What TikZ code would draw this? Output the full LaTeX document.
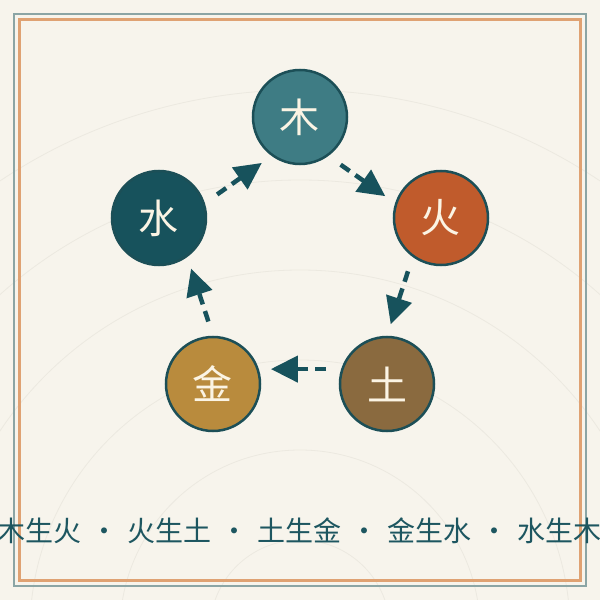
\documentclass[tikz,border=0pt]{standalone}
\usepackage{fontspec}
\newfontfamily\cjk{Noto Sans CJK SC}
\usepackage{xcolor}
\usepackage{tikz}
\usetikzlibrary{arrows.meta}

\definecolor{paper}{HTML}{F7F4EC}
\definecolor{ringc}{HTML}{ECE9E0}
\definecolor{frameteal}{HTML}{8BA5A5}
\definecolor{frameorange}{HTML}{DFA273}
\definecolor{wood}{HTML}{3E7C84}
\definecolor{fire}{HTML}{C05B2C}
\definecolor{earth}{HTML}{8A6A3F}
\definecolor{metal}{HTML}{B98B3D}
\definecolor{water}{HTML}{17525C}
\definecolor{edge}{HTML}{1C4F57}
\definecolor{cream}{HTML}{FBF4E4}
\definecolor{ink}{HTML}{1D5660}

\newcommand{\dotsep}{\hspace{9pt}·\hspace{9pt}}

\begin{document}
\begin{tikzpicture}[
  x=1pt,y=1pt,
  elem/.style={circle,draw=edge,line width=2.5pt,minimum size=94pt,inner sep=0pt,
    text=cream,font=\cjk\fontsize{40}{40}\selectfont},
  flow/.style={-{Triangle[length=27pt,width=26pt]},draw=water,line width=4.5pt,
    dash pattern=on 11pt off 7pt,shorten <=15pt,shorten >=12pt},
  ring/.style={draw=ringc,line width=0.8pt},
  border/.style={draw=#1,fill=none}
]

% --- Page and background rings ---
\useasboundingbox (-300,-300) rectangle (300,300);
\clip (-300,-300) rectangle (300,300);
\fill[paper] (-300,-300) rectangle (300,300);
\coordinate (hub) at (0,-330);
\draw[ring] (hub) circle (90) circle (180) circle (270)
  circle (360) circle (450) circle (540);

% --- Frames ---
\draw[border=frameteal,line width=2pt] (-286,-286) rectangle (286,286);
\draw[border=frameorange,line width=3pt] (-280,-280) rectangle (280,280);

% --- Elements (pentagon) ---
\node[elem,fill=wood]  (mu)   at (0,183)   {木};
\node[elem,fill=fire]  (huo)  at (141,82)  {火};
\node[elem,fill=earth] (tu)   at (87,-84)  {土};
\node[elem,fill=metal] (jin)  at (-87,-84) {金};
\node[elem,fill=water] (shui) at (-141,82) {水};

% --- Generating cycle ---
\draw[flow] (mu.-54)   -- (huo.162);
\draw[flow] (huo.-126) -- (tu.90);
\draw[flow] (tu.162)   -- (jin.18);
\draw[flow] (jin.90)   -- (shui.-54);
\draw[flow] (shui.18)  -- (mu.-126);

% --- Caption ---
\node[text=ink,font=\cjk\fontsize{28}{28}\selectfont,inner sep=0pt] (cycle) at (0,-231)
  {木生火\dotsep 火生土\dotsep 土生金\dotsep 金生水\dotsep 水生木};
\end{tikzpicture}
\end{document}
